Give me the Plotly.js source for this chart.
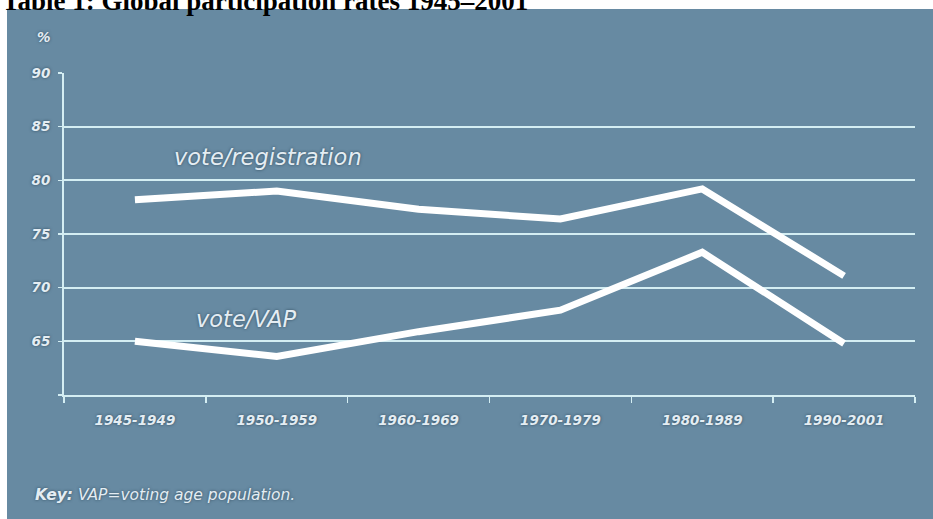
<!DOCTYPE html>
<html>
<head>
<meta charset="utf-8">
<script src="https://cdn.plot.ly/plotly-3.0.1.min.js"></script>
<style>html,body{margin:0;padding:0;background:#fff;}#chart{width:933px;height:519px;}</style>
</head>
<body>
<div id="chart"></div>
<script>
const periods = ['1945-1949','1950-1959','1960-1969','1970-1979','1980-1989','1990-2001'];
const voteRegistration = [78.2, 79.0, 77.3, 76.4, 79.2, 71.1];
const voteVAP = [65.0, 63.6, 65.9, 67.9, 73.3, 64.8];
const yTicks = [60, 65, 70, 75, 80, 85, 90];
const yTickText = ['', '65', '70', '75', '80', '85', '90'];

const W = 933, H = 519;
const M = {l: 64, r: 18, t: 73, b: 124};
const PW = W - M.l - M.r, PH = H - M.t - M.b;
const px = x => (x - M.l) / PW;
const py = y => (H - M.b - y) / PH;

const PANEL = '#678aa2';
const GRID = '#d4eef3';
const TXT = '#e4edf3';
const SHADOW = '0px 0px 3px #2f4a5c';

const lineStyle = {color: '#ffffff', width: 7, shape: 'linear'};
const data = [
  {x: periods, y: voteRegistration, type: 'scatter', mode: 'lines', name: 'vote/registration', line: lineStyle, hoverinfo: 'skip'},
  {x: periods, y: voteVAP, type: 'scatter', mode: 'lines', name: 'vote/VAP', line: lineStyle, hoverinfo: 'skip'}
];

const tickFont = {family: 'DejaVu Sans', size: 13.5, color: TXT, style: 'italic', weight: 'bold', shadow: SHADOW};

const layout = {
  width: W, height: H,
  margin: M,
  paper_bgcolor: '#ffffff',
  plot_bgcolor: 'rgba(0,0,0,0)',
  showlegend: false,
  xaxis: {
    type: 'category', range: [-0.5, 5.5],
    tickson: 'boundaries', ticks: 'outside', ticklen: 6, tickwidth: 1.5, tickcolor: GRID,
    showline: true, linecolor: GRID, linewidth: 2,
    showgrid: false, zeroline: false,
    tickfont: tickFont, ticklabelstandoff: 12
  },
  yaxis: {
    range: [60, 90], tickmode: 'array', tickvals: yTicks, ticktext: yTickText,
    ticks: 'outside', ticklen: 4, tickwidth: 1.5, tickcolor: GRID,
    showline: true, linecolor: GRID, linewidth: 2,
    showgrid: true, gridcolor: GRID, gridwidth: 2, zeroline: false,
    tickfont: tickFont, ticklabelstandoff: 5
  },
  shapes: [
    {type: 'rect', xref: 'paper', yref: 'paper', x0: px(7), x1: px(934), y0: py(520), y1: py(9),
     fillcolor: PANEL, line: {width: 0}, layer: 'below'}
  ],
  annotations: [
    {text: '<b>Table 1: Global participation rates 1945–2001</b>', xref: 'paper', yref: 'paper',
     x: px(0), y: py(1), xanchor: 'left', yanchor: 'middle', showarrow: false,
     font: {family: 'Liberation Serif', size: 27, color: '#000000'}},
    {text: '%', xref: 'paper', yref: 'paper', x: px(44), y: py(37), xanchor: 'center', yanchor: 'middle', showarrow: false,
     font: tickFont},
    {text: 'vote/registration', xref: 'paper', yref: 'paper', x: px(268), y: py(157), xanchor: 'center', yanchor: 'middle', showarrow: false,
     font: {family: 'DejaVu Sans', size: 22.5, color: TXT, style: 'italic', shadow: SHADOW}},
    {text: 'vote/VAP', xref: 'paper', yref: 'paper', x: px(246), y: py(319), xanchor: 'center', yanchor: 'middle', showarrow: false,
     font: {family: 'DejaVu Sans', size: 22.5, color: TXT, style: 'italic', shadow: SHADOW}},
    {text: '<b>Key:</b> VAP=voting age population.', xref: 'paper', yref: 'paper', x: px(33), y: py(495), xanchor: 'left', yanchor: 'middle', showarrow: false,
     font: {family: 'DejaVu Sans', size: 15.5, color: TXT, style: 'italic', shadow: SHADOW}}
  ]
};

Plotly.newPlot('chart', data, layout, {staticPlot: true, displayModeBar: false});
</script>
</body>
</html>
